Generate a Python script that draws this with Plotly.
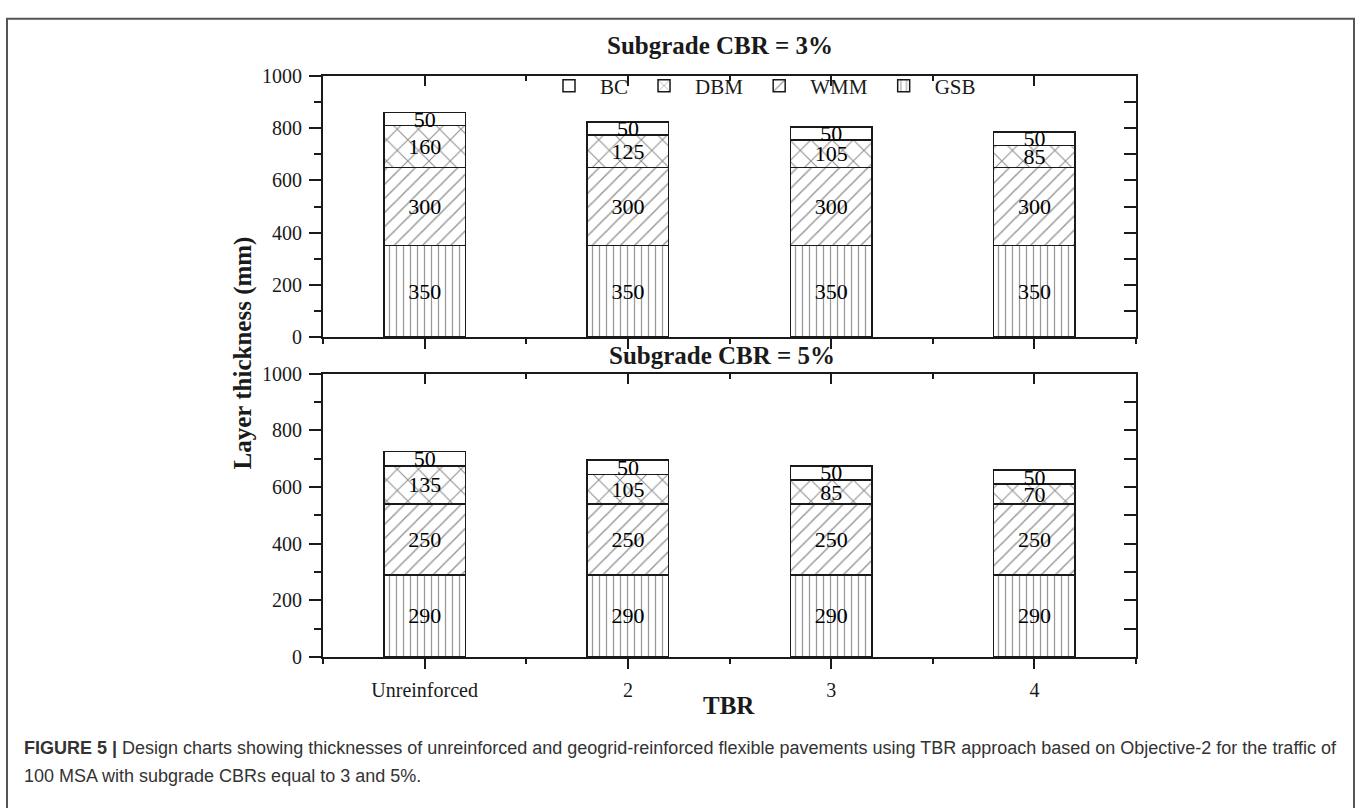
import plotly.graph_objects as go

# ---------------- data ----------------
categories = ["Unreinforced", "2", "3", "4"]
layers = ["GSB", "WMM", "DBM", "BC"]          # bottom -> top
cbr3_gsb = [350, 350, 350, 350]
cbr3_wmm = [300, 300, 300, 300]
cbr3_dbm = [160, 125, 105, 85]
cbr3_bc = [50, 50, 50, 50]
cbr5_gsb = [290, 290, 290, 290]
cbr5_wmm = [250, 250, 250, 250]
cbr5_dbm = [135, 105, 85, 70]
cbr5_bc = [50, 50, 50, 50]
y_ticks = [0, 200, 400, 600, 800, 1000]

x_pos = list(range(1, len(categories) + 1))

W, H = 1360, 808
def px_x(p): return p / W
def px_y(p): return 1 - p / H

X_DOM = [px_x(323), px_x(1136)]
TOP_DOM = [px_y(335), px_y(67)]
BOT_DOM = [px_y(664), px_y(373)]

SERIF = "Liberation Serif"
INK = "#1a1a1a"

patterns = {
    "BC": dict(shape="", fgcolor="#333"),
    "DBM": dict(shape="x", size=15, solidity=0.14, fgcolor="#222", bgcolor="white"),
    "WMM": dict(shape="/", size=10, solidity=0.15, fgcolor="#333", bgcolor="white"),
    "GSB": dict(shape="|", size=7, solidity=0.18, fgcolor="#333", bgcolor="white"),
}

fig = go.Figure()

def add_stack(vals_by_layer, xa, ya, legend):
    for name in layers:
        vals = vals_by_layer[name]
        fig.add_trace(go.Bar(
            x=x_pos, y=vals, name=name, xaxis=xa, yaxis=ya,
            width=0.4,
            marker=dict(color="white", line=dict(color=INK, width=1.5),
                        pattern=patterns[name]),
            text=vals, texttemplate="%{text}",
            textposition="inside", insidetextanchor="middle",
            constraintext="none", textangle=0,
            textfont=dict(family=SERIF, size=22, color="black"),
            showlegend=legend, hoverinfo="skip",
        ))

add_stack({"GSB": cbr3_gsb, "WMM": cbr3_wmm, "DBM": cbr3_dbm, "BC": cbr3_bc}, "x", "y", True)
add_stack({"GSB": cbr5_gsb, "WMM": cbr5_wmm, "DBM": cbr5_dbm, "BC": cbr5_bc}, "x2", "y2", False)

# empty traces so the mirrored (inward-tick) axes are drawn
fig.add_trace(go.Scatter(x=[None], y=[None], xaxis="x3", yaxis="y3", showlegend=False, hoverinfo="skip"))
fig.add_trace(go.Scatter(x=[None], y=[None], xaxis="x4", yaxis="y4", showlegend=False, hoverinfo="skip"))

tickfont = dict(family=SERIF, size=20, color=INK)

def xaxis_main(anchor, labels):
    return dict(domain=X_DOM, anchor=anchor, range=[0.5, 4.5],
                tickvals=x_pos, ticktext=categories, showticklabels=labels,
                ticks="outside", ticklen=10, tickwidth=2, tickcolor=INK,
                minor=dict(dtick=0.5, tick0=0.5, ticks="outside", ticklen=5,
                           tickwidth=2, tickcolor=INK, showgrid=False),
                showline=True, linewidth=2, linecolor=INK, mirror=True,
                showgrid=False, zeroline=False, tickfont=tickfont,
                ticklabelstandoff=4, fixedrange=True)

def xaxis_top(overlay, anchor):
    return dict(overlaying=overlay, anchor=anchor, side="top", range=[0.5, 4.5],
                tickvals=x_pos, showticklabels=False,
                ticks="inside", ticklen=10, tickwidth=2, tickcolor=INK,
                minor=dict(dtick=0.5, tick0=0.5, ticks="inside", ticklen=5,
                           tickwidth=2, tickcolor=INK, showgrid=False),
                showline=False, showgrid=False, zeroline=False, fixedrange=True)

def yaxis_main(dom, anchor):
    return dict(domain=dom, anchor=anchor, range=[0, 1000],
                tickvals=y_ticks, ticks="outside", ticklen=12, tickwidth=2,
                tickcolor=INK,
                minor=dict(dtick=100, ticks="outside", ticklen=7, tickwidth=2,
                           tickcolor=INK, showgrid=False),
                showline=True, linewidth=2, linecolor=INK, mirror=True,
                showgrid=False, zeroline=False, tickfont=tickfont,
                ticklabelstandoff=3, fixedrange=True)

def yaxis_right(overlay, anchor):
    return dict(overlaying=overlay, anchor=anchor, side="right", range=[0, 1000],
                tickvals=y_ticks, showticklabels=False,
                ticks="inside", ticklen=12, tickwidth=2, tickcolor=INK,
                minor=dict(dtick=100, ticks="inside", ticklen=12, tickwidth=2,
                           tickcolor=INK, showgrid=False),
                showline=False, showgrid=False, zeroline=False, fixedrange=True)

fig.update_layout(
    width=W, height=H,
    margin=dict(l=0, r=0, t=0, b=0),
    paper_bgcolor="white", plot_bgcolor="white",
    barmode="stack",
    font=dict(family=SERIF, color=INK),
    xaxis=xaxis_main("y", False),
    yaxis=yaxis_main(TOP_DOM, "x"),
    xaxis2=xaxis_main("y2", True),
    yaxis2=yaxis_main(BOT_DOM, "x2"),
    xaxis3=xaxis_top("x", "y"),
    yaxis3=yaxis_right("y", "x"),
    xaxis4=xaxis_top("x2", "y2"),
    yaxis4=yaxis_right("y2", "x2"),
    legend=dict(orientation="h", x=px_x(538), y=px_y(56), xanchor="left", yanchor="top",
                traceorder="reversed", font=dict(family=SERIF, size=21, color=INK),
                bgcolor="rgba(0,0,0,0)", itemwidth=52, itemclick=False),
    showlegend=True,
)

ann = []
ann.append(dict(text="<b>Subgrade CBR = 3%</b>", x=px_x(720), y=px_y(35), xref="paper", yref="paper",
                showarrow=False, font=dict(family=SERIF, size=25, color=INK), xanchor="center", yanchor="middle"))
ann.append(dict(text="<b>Subgrade CBR = 5%</b>", x=px_x(722), y=px_y(354), xref="paper", yref="paper",
                showarrow=False, font=dict(family=SERIF, size=25, color=INK), xanchor="center", yanchor="middle"))
ann.append(dict(text="<b>Layer thickness (mm)</b>", x=px_x(243), y=px_y(352), xref="paper", yref="paper",
                textangle=-90, showarrow=False, font=dict(family=SERIF, size=25, color=INK),
                xanchor="center", yanchor="middle"))
ann.append(dict(text="<b>TBR</b>", x=px_x(729), y=px_y(714), xref="paper", yref="paper",
                showarrow=False, font=dict(family=SERIF, size=25, color=INK), xanchor="center", yanchor="middle"))
CAP = "Liberation Sans"
ann.append(dict(text="<b>FIGURE 5 |</b> Design charts showing thicknesses of unreinforced and geogrid-reinforced flexible pavements using TBR approach based on Objective-2 for the traffic of",
                x=px_x(22), y=px_y(758), xref="paper", yref="paper", showarrow=False,
                font=dict(family=CAP, size=18, color="#333"), xanchor="left", yanchor="middle"))
ann.append(dict(text="100 MSA with subgrade CBRs equal to 3 and 5%.",
                x=px_x(22), y=px_y(786), xref="paper", yref="paper", showarrow=False,
                font=dict(family=CAP, size=18, color="#333"), xanchor="left", yanchor="middle"))
fig.update_layout(annotations=ann)

fig.add_shape(type="rect", xref="paper", yref="paper",
              x0=px_x(7), x1=px_x(1354), y0=-0.05, y1=px_y(8),
              line=dict(color="#555", width=2), fillcolor="rgba(0,0,0,0)", layer="below")

fig.write_html("out.html")
